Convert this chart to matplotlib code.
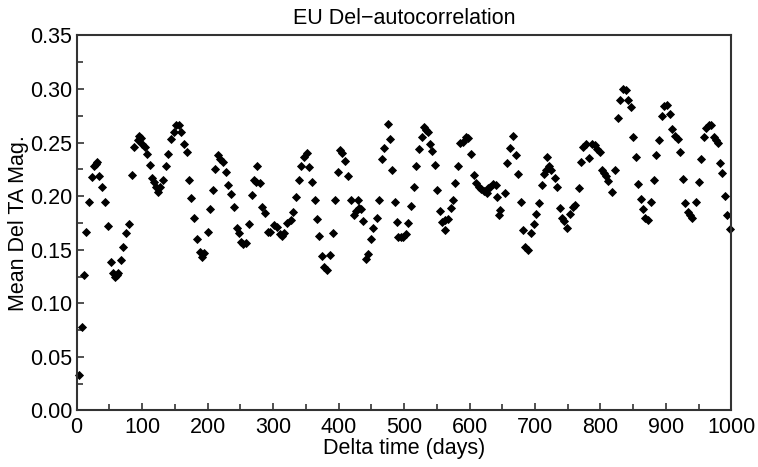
import matplotlib
matplotlib.use("Agg")
import matplotlib.pyplot as plt
from matplotlib.ticker import MultipleLocator, FormatStrFormatter

# values
days = [3.5, 8, 11, 15, 19, 24, 27, 29, 31, 35, 39, 43, 47.5, 52, 55, 58, 61, 64,
        67.5, 71, 75.5, 79.5, 84, 88, 94, 96, 98, 100, 104, 108, 111.5, 115, 119,
        122, 124, 128, 132, 136, 140, 144, 148.5, 152, 156, 160, 164, 168, 172,
        175.5, 179.5, 183.5, 188, 191, 194, 200, 204, 208.5, 212, 216, 219, 224,
        228, 232, 236, 240, 244.5, 248,
        251, 254, 258, 264, 267.5, 271, 274, 276, 279.5, 283, 287, 292, 296, 301,
        305.5, 310, 314, 317, 322, 327, 331, 335, 339, 342.5, 348, 352, 355, 359,
        364, 367, 370.5, 375.5, 378, 382, 387, 391, 395, 399, 402.5, 406, 410,
        415, 419, 423, 426, 430, 431, 434, 438, 441.5, 445, 450, 453, 458, 462,
        466, 470, 475, 479, 482, 486, 489, 491,
        495.5, 499, 502.5, 506.5, 510.5, 515, 519, 523, 527, 530, 534, 537, 539,
        543, 547, 551, 555, 558, 562, 563, 567.5, 571, 574.5, 578.5, 582.5, 586,
        590, 594, 598, 602.5, 606.5, 610, 614, 618, 622, 626, 629, 632, 636, 640,
        642.5, 645, 647, 654, 658, 662.5, 666.5, 670.5, 674, 678, 682, 685, 689,
        694.5, 698, 702, 706, 710, 714, 717, 719, 721, 724, 730, 734, 737.5,
        741.5, 745, 749,
        754, 758, 761.5, 766.5, 770, 774, 778, 783, 787, 791, 795, 799, 802, 805,
        809, 812, 817, 822, 826, 830.5, 834.5, 839, 842.5, 847, 850, 854, 858,
        861.5, 865.5, 868, 872, 877, 882, 885, 889, 894, 897.5, 901.5, 905.5,
        909.5, 914, 918, 922, 925.5, 929.5, 933, 937, 940, 946, 950, 954, 957.5,
        961.5, 965.5, 969.5, 973, 977, 980, 983, 986, 989.5, 993.5, 998]

mag = [0.033, 0.078, 0.126, 0.167, 0.195, 0.218, 0.228, 0.230, 0.232, 0.219, 0.209,
       0.195, 0.172, 0.139, 0.128, 0.125, 0.126, 0.128, 0.140, 0.153, 0.166, 0.174,
       0.220, 0.246, 0.252, 0.256, 0.254, 0.249, 0.246, 0.239, 0.229, 0.217, 0.213,
       0.209, 0.204, 0.209, 0.215, 0.228, 0.239, 0.253, 0.260, 0.266, 0.266, 0.260,
       0.249, 0.241, 0.215, 0.198, 0.180, 0.160, 0.148, 0.143, 0.147, 0.167, 0.188,
       0.206, 0.225, 0.238, 0.235, 0.232, 0.223, 0.210, 0.202, 0.190, 0.170, 0.166,
       0.157, 0.155, 0.156, 0.174, 0.201, 0.215, 0.213, 0.228, 0.212, 0.190, 0.184,
       0.167, 0.167, 0.173, 0.171, 0.165, 0.163, 0.166, 0.175, 0.178, 0.185, 0.199,
       0.215, 0.228, 0.237, 0.240, 0.227, 0.213, 0.196, 0.179, 0.163, 0.144, 0.134,
       0.131, 0.145, 0.166, 0.196, 0.223, 0.243, 0.240, 0.233, 0.219, 0.196, 0.182,
       0.186, 0.196, 0.189, 0.188, 0.177, 0.141, 0.146, 0.160, 0.170, 0.180, 0.196,
       0.235, 0.245, 0.267, 0.253, 0.224, 0.195, 0.176, 0.162,
       0.162, 0.162, 0.165, 0.175, 0.191, 0.209, 0.228, 0.244, 0.255, 0.265, 0.262,
       0.260, 0.249, 0.242, 0.229, 0.206, 0.186, 0.176, 0.178, 0.168, 0.179, 0.189,
       0.196, 0.212, 0.228, 0.250, 0.251, 0.255, 0.254, 0.239, 0.220, 0.212, 0.209,
       0.207, 0.205, 0.203, 0.208, 0.209, 0.211, 0.210, 0.199, 0.182, 0.187, 0.203,
       0.231, 0.245, 0.256, 0.238, 0.221, 0.195, 0.168, 0.153, 0.150, 0.166, 0.174,
       0.183, 0.194, 0.210, 0.221, 0.224, 0.237, 0.228, 0.224, 0.217, 0.209, 0.189,
       0.180, 0.177, 0.170,
       0.183, 0.190, 0.192, 0.208, 0.232, 0.246, 0.249, 0.236, 0.249, 0.248, 0.244,
       0.241, 0.224, 0.222, 0.219, 0.214, 0.204, 0.224, 0.273, 0.290, 0.300, 0.299,
       0.290, 0.283, 0.255, 0.237, 0.211, 0.197, 0.188, 0.180, 0.178, 0.195, 0.215,
       0.238, 0.252, 0.275, 0.284, 0.285, 0.277, 0.263, 0.256, 0.253, 0.241, 0.216,
       0.194, 0.185, 0.182, 0.180, 0.195, 0.213, 0.235, 0.255, 0.264, 0.266, 0.266,
       0.255, 0.252, 0.250, 0.231, 0.222, 0.200, 0.182, 0.169]

plt.rcParams['font.family'] = ['Liberation Sans', 'DejaVu Sans']

fig = plt.figure(figsize=(7.58, 4.67), dpi=100)
ax = fig.add_axes([0.101, 0.121, 0.864, 0.803])

ax.plot(days, mag, linestyle='none', marker='D', markersize=4.0,
        markeredgewidth=0.6, color='black', clip_on=False)

ax.set_xlim(0, 1000)
ax.set_ylim(0, 0.35)
ax.xaxis.set_major_locator(MultipleLocator(100))
ax.xaxis.set_minor_locator(MultipleLocator(50))
ax.yaxis.set_major_locator(MultipleLocator(0.05))
ax.yaxis.set_minor_locator(MultipleLocator(0.025))
ax.yaxis.set_major_formatter(FormatStrFormatter('%.2f'))

ax.tick_params(which='both', direction='in', top=False, right=False,
               labelsize=15.5, color='#333333', width=1.2)
ax.tick_params(which='major', length=5)
ax.tick_params(which='minor', length=4)
ax.tick_params(axis='x', which='major', pad=5)
ax.tick_params(axis='y', which='major', pad=3)
for s in ax.spines.values():
    s.set_linewidth(1.5)
    s.set_color('#333333')

ax.set_title('EU Del\u2212autocorrelation', fontsize=15.5, pad=8)
ax.set_xlabel('Delta time (days)', fontsize=15.5, labelpad=0)
ax.set_ylabel('Mean Del TA Mag.', fontsize=15.5, labelpad=1)

fig.savefig('out.png', dpi=100)
